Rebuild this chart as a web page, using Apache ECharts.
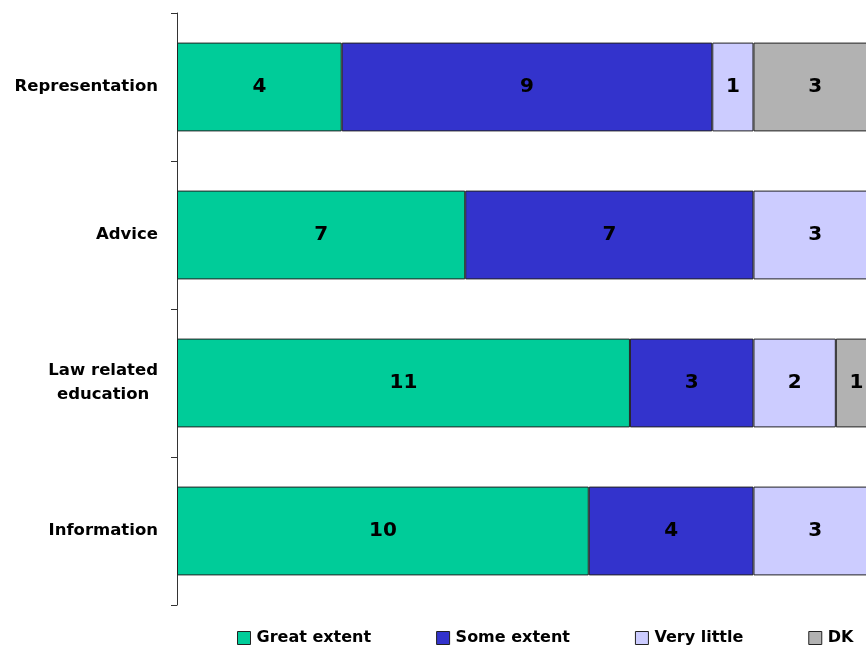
<!DOCTYPE html>
<html>
<head>
<meta charset="utf-8">
<script src="https://cdn.jsdelivr.net/npm/echarts@6/dist/echarts.min.js"></script>
<style>
html,body{margin:0;padding:0;background:#fff;}
#chart{width:866px;height:648px;}
</style>
</head>
<body>
<div id="chart"></div>
<script>
var categories = ['Representation', 'Advice', 'Law related\neducation', 'Information'];
var seriesNames = ['Great extent', 'Some extent', 'Very little', 'DK'];
var greatExtent = [4, 7, 11, 10];
var someExtent = [9, 7, 3, 4];
var veryLittle = [1, 3, 2, 3];
var dk = [3, 0, 1, 0];
var colors = ['#00CC99', '#3333CC', '#CCCCFF', '#B2B2B2'];

var values = [greatExtent, someExtent, veryLittle, dk];
var chart = echarts.init(document.getElementById('chart'), null, {renderer: 'canvas'});

var series = seriesNames.map(function (name, i) {
  return {
    name: name,
    type: 'bar',
    stack: 'total',
    barCategoryGap: '40%',
    clip: false,
    data: values[i],
    itemStyle: {color: colors[i], borderColor: '#222', borderWidth: 1},
    label: {
      show: true,
      position: 'inside',
      color: '#000',
      fontFamily: 'DejaVu Sans',
      fontWeight: 'bold',
      fontSize: 20,
      formatter: function (p) { return p.value ? String(p.value) : ''; }
    },
    emphasis: {disabled: true}
  };
});

chart.setOption({
  animation: false,
  backgroundColor: '#fff',
  grid: {left: 177, width: 700, top: 13, bottom: 43, containLabel: false, outerBoundsMode: 'none'},
  xAxis: {type: 'value', min: 0, max: 17, show: false},
  yAxis: {
    type: 'category',
    inverse: true,
    data: categories,
    axisLine: {show: true, lineStyle: {color: '#333', width: 1}},
    axisTick: {show: true, inside: false, length: 6, alignWithLabel: false, lineStyle: {color: '#333'}},
    axisLabel: {
      margin: 19,
      color: '#000',
      formatter: function (v) {
        return v.split('\n').map(function (s) { return '{a|' + s + '}'; }).join('\n');
      },
      rich: {
        a: {
          fontFamily: 'DejaVu Sans',
          fontWeight: 'bold',
          fontSize: 16.5,
          lineHeight: 24,
          align: 'center',
          color: '#000'
        }
      }
    },
    splitLine: {show: false}
  },
  legend: {
    data: seriesNames,
    left: 237,
    top: 630,
    padding: 0,
    itemWidth: 13,
    itemHeight: 13,
    itemGap: 65,
    icon: 'rect',
    itemStyle: {borderColor: '#222', borderWidth: 1},
    textStyle: {fontFamily: 'DejaVu Sans', fontWeight: 'bold', fontSize: 16, color: '#000', padding: [0, 0, 0, 1]},
    selectedMode: false
  },
  series: series
});
</script>
</body>
</html>
